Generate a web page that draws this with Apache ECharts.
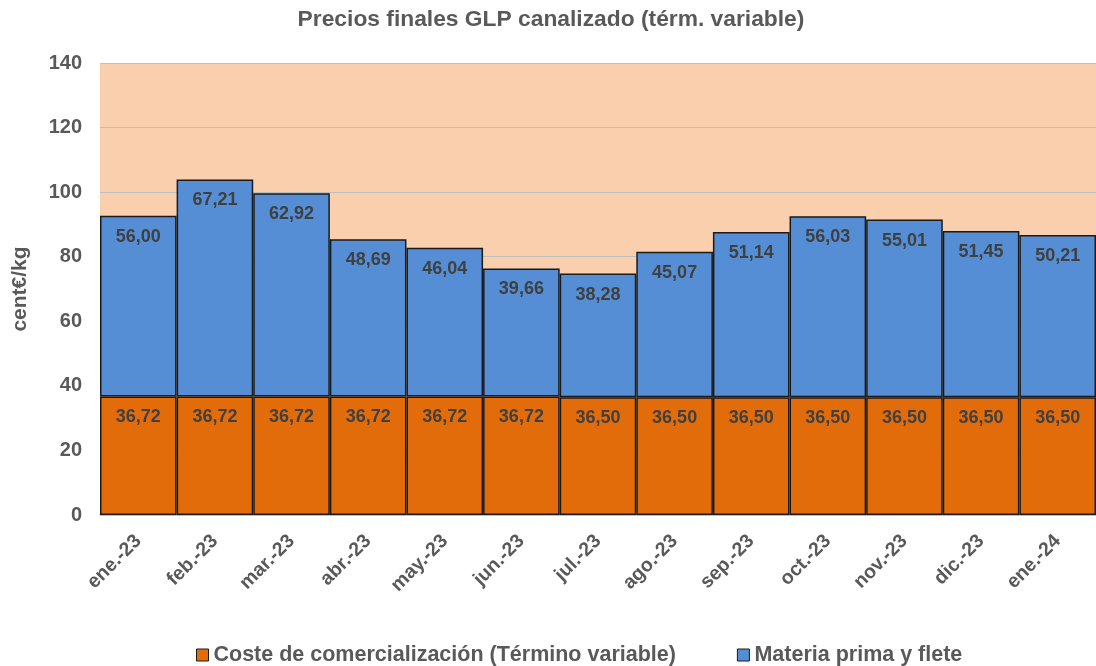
<!DOCTYPE html>
<html><head><meta charset="utf-8">
<script src="https://cdn.jsdelivr.net/npm/echarts@6/dist/echarts.min.js"></script>
<style>html,body{margin:0;padding:0;background:#fff}#c{width:1096px;height:666px}</style>
</head><body><div id="c"></div>
<script>
const categories = ['ene.-23','feb.-23','mar.-23','abr.-23','may.-23','jun.-23','jul.-23','ago.-23','sep.-23','oct.-23','nov.-23','dic.-23','ene.-24'];
const costeComercializacion = [36.72,36.72,36.72,36.72,36.72,36.72,36.50,36.50,36.50,36.50,36.50,36.50,36.50];
const materiaPrima = [56.00,67.21,62.92,48.69,46.04,39.66,38.28,45.07,51.14,56.03,55.01,51.45,50.21];
const yTicks = [0,20,40,60,80,100,120,140];

const fontFam = 'Liberation Sans, Arial, sans-serif';
const fmt = p => p.value.toFixed(2).replace('.', ',');
const chart = echarts.init(document.getElementById('c'));
chart.setOption({
  animation: false,
  backgroundColor: '#ffffff',
  title: {
    text: 'Precios finales GLP canalizado (térm. variable)',
    left: 551, top: 8, textAlign: 'center', padding: 0,
    textStyle: {fontFamily: fontFam, fontWeight: 'bold', fontSize: 22.8, color: '#595959'}
  },
  legend: {
    top: 644, left: 196, padding: 0, itemGap: 61, itemWidth: 12, itemHeight: 12,
    icon: 'rect',
    itemStyle: {borderColor: '#1a1a1a', borderWidth: 1},
    textStyle: {fontFamily: fontFam, fontWeight: 'bold', fontSize: 21.5, color: '#595959', padding: [0,0,0,0]},
    data: ['Coste de comercialización (Término variable)', 'Materia prima y flete']
  },
  grid: {left: 100, top: 63, width: 1001, height: 452, show: true, backgroundColor: '#F9CFAD', borderWidth: 0},
  xAxis: {
    type: 'category', data: categories,
    axisLine: {show: true, lineStyle: {color: '#BFBFBF', width: 1.5}},
    axisTick: {show: false},
    axisLabel: {rotate: 45, fontFamily: fontFam, fontWeight: 'bold', fontSize: 19.5, color: '#595959', margin: 23}
  },
  yAxis: {
    type: 'value', min: yTicks[0], max: yTicks[yTicks.length-1], interval: 20,
    name: 'cent€/kg', nameLocation: 'middle', nameGap: 69, nameRotate: 90,
    nameTextStyle: {fontFamily: fontFam, fontWeight: 'bold', fontSize: 21, color: '#595959'},
    axisLine: {show: false}, axisTick: {show: false},
    axisLabel: {fontFamily: fontFam, fontWeight: 'bold', fontSize: 20, color: '#595959', margin: 18},
    splitLine: {lineStyle: {color: '#BFBFBF', width: 1.2}}
  },
  series: [
    {
      name: 'Coste de comercialización (Término variable)', type: 'bar', stack: 't',
      data: costeComercializacion, barWidth: '100%', barCategoryGap: '0%',
      itemStyle: {color: '#E36C0A', borderColor: '#1a1a1a', borderWidth: 1.5},
      label: {show: true, position: 'insideTop', distance: 12, formatter: fmt,
        fontFamily: fontFam, fontWeight: 'bold', fontSize: 18, color: '#404040'}
    },
    {
      name: 'Materia prima y flete', type: 'bar', stack: 't',
      data: materiaPrima, barWidth: '100%',
      itemStyle: {color: '#558ED5', borderColor: '#1a1a1a', borderWidth: 1.5},
      label: {show: true, position: 'insideTop', distance: 12, formatter: fmt,
        fontFamily: fontFam, fontWeight: 'bold', fontSize: 18, color: '#404040'}
    }
  ]
});
</script></body></html>
